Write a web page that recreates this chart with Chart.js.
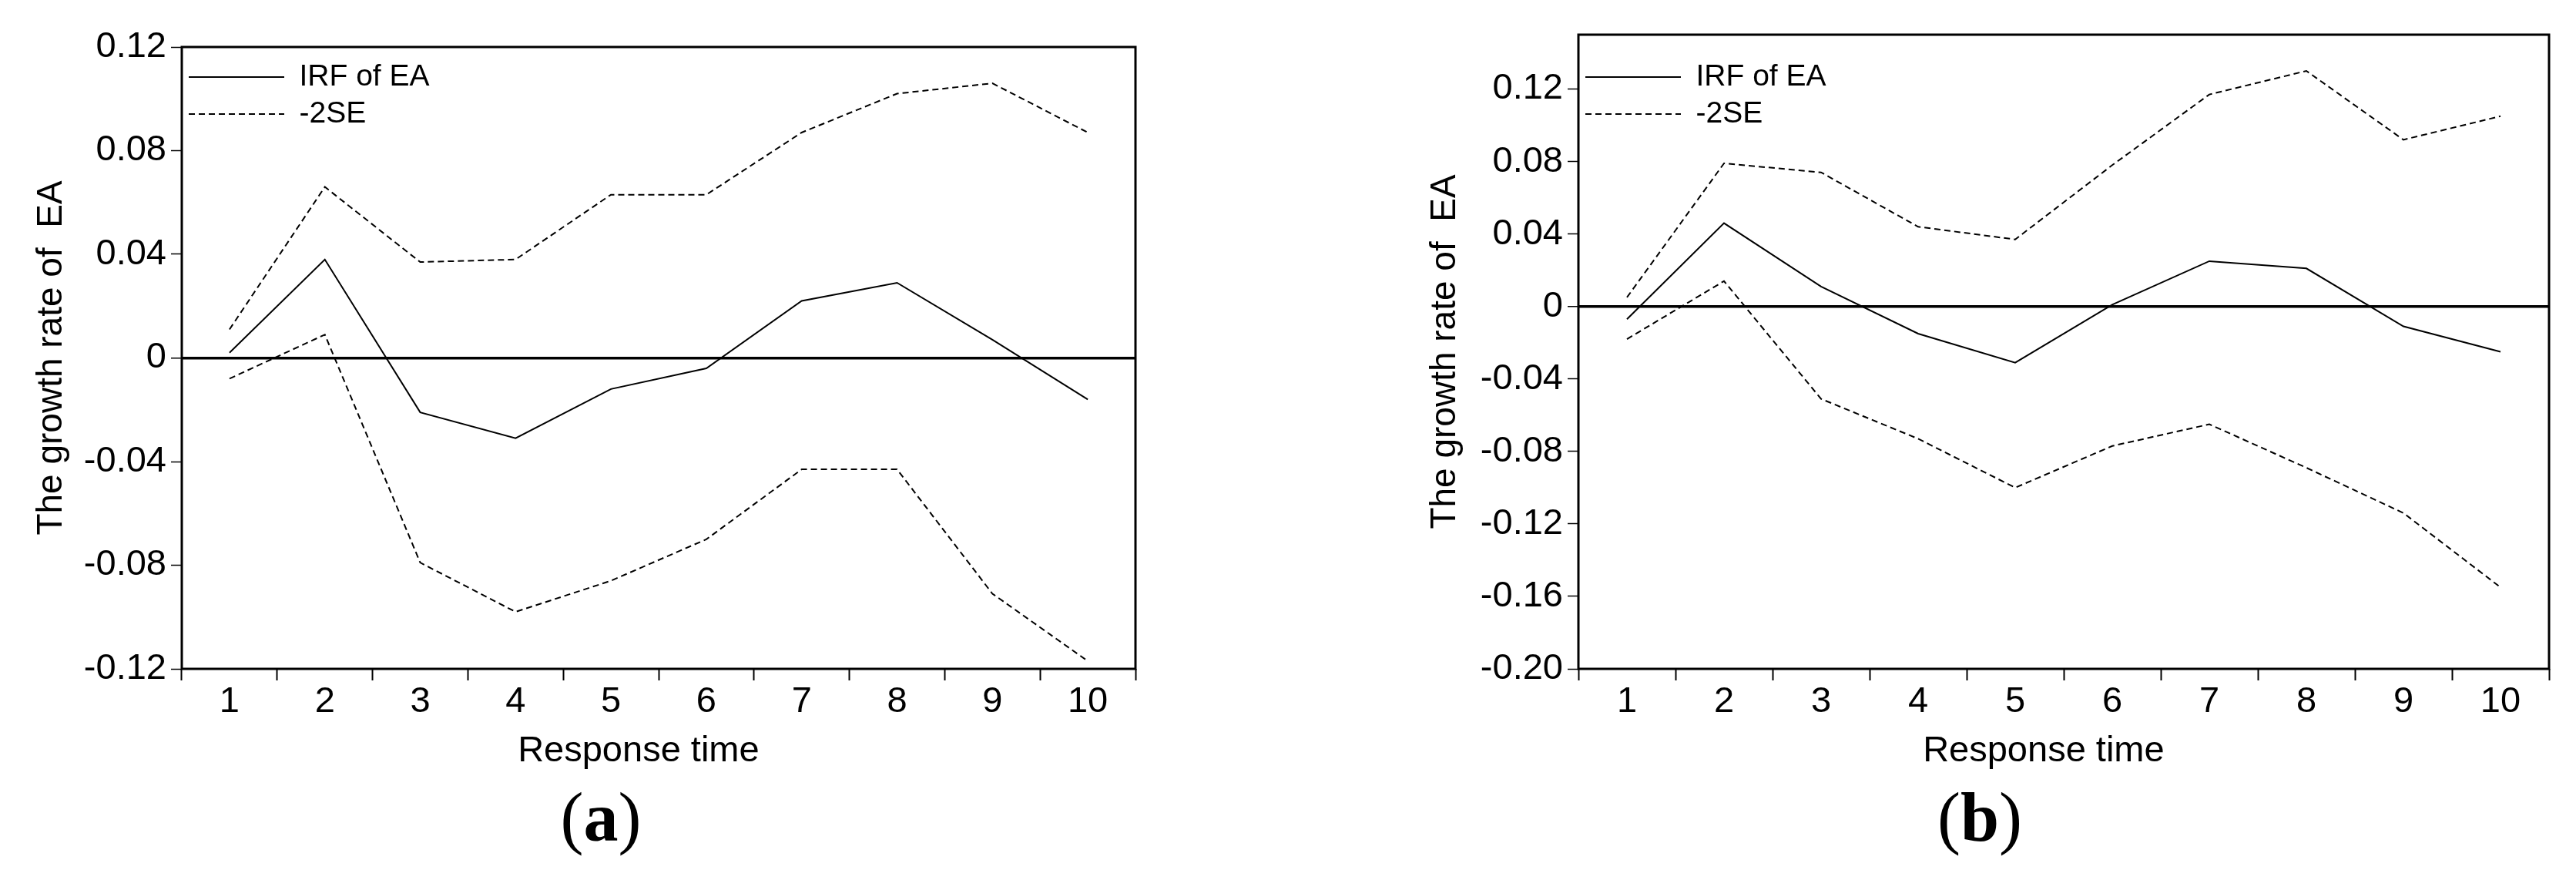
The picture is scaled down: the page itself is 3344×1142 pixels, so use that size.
<!DOCTYPE html>
<html>
<head>
<meta charset="utf-8">
<script src="https://cdn.jsdelivr.net/npm/chart.js@4.4.1/dist/chart.umd.min.js"></script>
<style>
    body { margin: 0; background: #fff; width: 3344px; height: 1142px; position: relative; overflow: hidden; }
    canvas { position: absolute; top: 0; }
    .cap { position: absolute; top: 1016px; width: 200px; text-align: center; font-family: "Liberation Serif", serif; font-size: 90px; line-height: 1; color: #000; }
</style>
</head>
<body>
<canvas id="chartA" width="1560" height="1015" style="left:0px"></canvas>
<canvas id="chartB" width="1644" height="1015" style="left:1700px"></canvas>
<div class="cap" style="left:680px">(<b>a</b>)</div>
<div class="cap" style="left:2470px">(<b>b</b>)</div>
<script>
// response time (periods)
const steps = ['1', '2', '3', '4', '5', '6', '7', '8', '9', '10'];

// panel (a)
const irfA   = [0.002, 0.038, -0.021, -0.031, -0.012, -0.004, 0.022, 0.029, 0.007, -0.016];
const lowerA = [-0.008, 0.009, -0.079, -0.098, -0.086, -0.070, -0.043, -0.043, -0.091, -0.117];
const upperA = [0.011, 0.066, 0.037, 0.038, 0.063, 0.063, 0.087, 0.102, 0.106, 0.087];
const yTicksA = [-0.12, -0.08, -0.04, 0, 0.04, 0.08, 0.12];
const yRangeA = [-0.12, 0.12];

// panel (b)
const irfB   = [-0.007, 0.046, 0.011, -0.015, -0.031, 0.001, 0.025, 0.021, -0.011, -0.025];
const lowerB = [-0.018, 0.014, -0.051, -0.073, -0.100, -0.077, -0.065, -0.089, -0.114, -0.155];
const upperB = [0.005, 0.079, 0.074, 0.044, 0.037, 0.078, 0.117, 0.130, 0.092, 0.105];
const yTicksB = [-0.20, -0.16, -0.12, -0.08, -0.04, 0, 0.04, 0.08, 0.12];
const yRangeB = [-0.20, 0.15];

const FONT = '"Liberation Sans", Arial, sans-serif';

// box around the plot area
const framePlugin = {
    id: 'frame',
    afterDatasetsDraw(chart) {
        const { ctx, chartArea: a } = chart;
        ctx.save();
        ctx.strokeStyle = '#000';
        ctx.lineWidth = 3;
        ctx.strokeRect(a.left, a.top, a.right - a.left, a.bottom - a.top);
        ctx.restore();
    }
};

// legend samples should use the dataset's dash and width, not the point style
function legendItems(chart) {
    return Chart.defaults.plugins.legend.labels.generateLabels(chart).map(item => {
        const ds = chart.data.datasets[item.datasetIndex];
        return Object.assign(item, {
            lineDash: ds.borderDash || [],
            lineWidth: ds.borderWidth,
            strokeStyle: ds.borderColor
        });
    });
}

function drawPanel(id, irf, lower, upper, yTicks, yRange, box) {
    const canvas = document.getElementById(id);
    new Chart(canvas.getContext('2d'), {
        type: 'line',
        data: {
            labels: steps,
            datasets: [
                {
                    label: 'IRF of EA',
                    data: irf,
                    borderColor: '#000',
                    borderWidth: 2,
                    pointRadius: 0,
                    tension: 0,
                    fill: false
                },
                {
                    label: '-2SE',
                    data: lower,
                    borderColor: '#000',
                    borderWidth: 2,
                    borderDash: [8, 5],
                    pointRadius: 0,
                    tension: 0,
                    fill: false
                },
                {
                    label: '+2SE',
                    data: upper,
                    borderColor: '#000',
                    borderWidth: 2,
                    borderDash: [8, 5],
                    pointRadius: 0,
                    tension: 0,
                    fill: false
                }
            ]
        },
        options: {
            responsive: false,
            animation: false,
            layout: {
                padding: { left: 0, top: box.top, right: canvas.width - box.right, bottom: 0 }
            },
            plugins: {
                tooltip: { enabled: false },
                legend: {
                    position: 'chartArea',
                    align: 'start',
                    // empty title only pushes the entries down into the plot
                    title: { display: true, text: '', padding: { top: 60.7, bottom: 0 }, font: { size: 9 } },
                    labels: {
                        usePointStyle: true,
                        pointStyle: 'line',
                        pointStyleWidth: 124,
                        color: '#000',
                        padding: 9,
                        font: { family: FONT, size: 39 },
                        generateLabels: legendItems,
                        filter: item => item.text !== '+2SE'
                    }
                }
            },
            scales: {
                x: {
                    offset: true,
                    afterFit: s => { s.height = canvas.height - box.bottom; },
                    grid: {
                        offset: true,
                        drawOnChartArea: false,
                        drawTicks: true,
                        tickLength: 15,
                        tickColor: '#000',
                        tickWidth: 2,
                        color: '#000'
                    },
                    border: { display: false },
                    ticks: {
                        color: '#000',
                        padding: 5,
                        maxRotation: 0,
                        font: { family: FONT, size: 47, lineHeight: 1 }
                    },
                    title: {
                        display: true,
                        text: 'Response time    ',
                        color: '#000',
                        font: { family: FONT, size: 47 },
                        padding: { top: 0, bottom: 12 }
                    }
                },
                y: {
                    min: yRange[0],
                    max: yRange[1],
                    afterFit: s => { s.width = box.left; },
                    afterBuildTicks: s => { s.ticks = yTicks.map(v => ({ value: v })); },
                    grid: {
                        drawTicks: true,
                        tickLength: 14,
                        tickColor: '#000',
                        tickWidth: 1.5,
                        color: c => (c.tick && c.tick.value === 0) ? '#000' : 'rgba(0,0,0,0)',
                        lineWidth: c => (c.tick && c.tick.value === 0) ? 3.5 : 1
                    },
                    border: { display: false },
                    ticks: {
                        color: '#000',
                        padding: 6,
                        font: { family: FONT, size: 47 },
                        callback: v => v === 0 ? '0' : v.toFixed(2)
                    },
                    title: {
                        display: true,
                        text: 'The growth rate of  EA',
                        color: '#000',
                        font: { family: FONT, size: 46 },
                        padding: { top: box.titleX - 28, bottom: 0 }
                    }
                }
            }
        },
        plugins: [framePlugin]
    });
}

drawPanel('chartA', irfA, lowerA, upperA, yTicksA, yRangeA, { left: 236, right: 1474, top: 61, bottom: 868, titleX: 68 });
drawPanel('chartB', irfB, lowerB, upperB, yTicksB, yRangeB, { left: 349, right: 1609, top: 45, bottom: 868, titleX: 177 });
</script>
</body>
</html>
